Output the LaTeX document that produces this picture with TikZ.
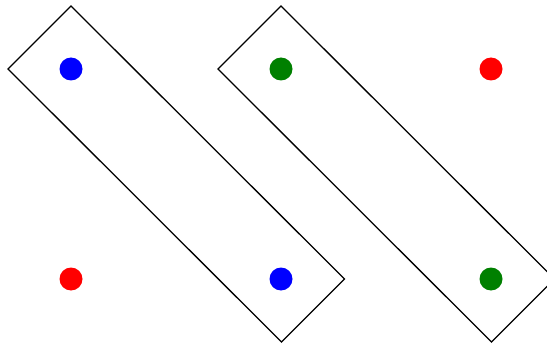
\documentclass[tikz,border=0pt]{standalone}
\begin{document}
\begin{tikzpicture}[x=1pt,y=-1pt,
  dot/.style={circle,inner sep=0pt,minimum size=23pt,draw=none},
  band/.style={draw=black,line width=1.3pt,line join=miter}]
\useasboundingbox (0,0) rectangle (547,345);
\clip (0,0) rectangle (547,345);
\fill[white] (0,0) rectangle (547,345);
\draw[band] (8,69) -- (71,6) -- (344.5,279) -- (281.5,342) -- cycle;
\draw[band] (218,69) -- (281,6) -- (554.5,279) -- (491.5,342) -- cycle;
\node[dot,fill=blue] (b1) at (71,69) {};
\node[dot,fill={rgb,255:red,0;green,128;blue,0}] (g1) at (281,69) {};
\node[dot,fill=red] (r1) at (491,69) {};
\node[dot,fill=red] (r2) at (71,279) {};
\node[dot,fill=blue] (b2) at (281,279) {};
\node[dot,fill={rgb,255:red,0;green,128;blue,0}] (g2) at (491,279) {};
\end{tikzpicture}
\end{document}
